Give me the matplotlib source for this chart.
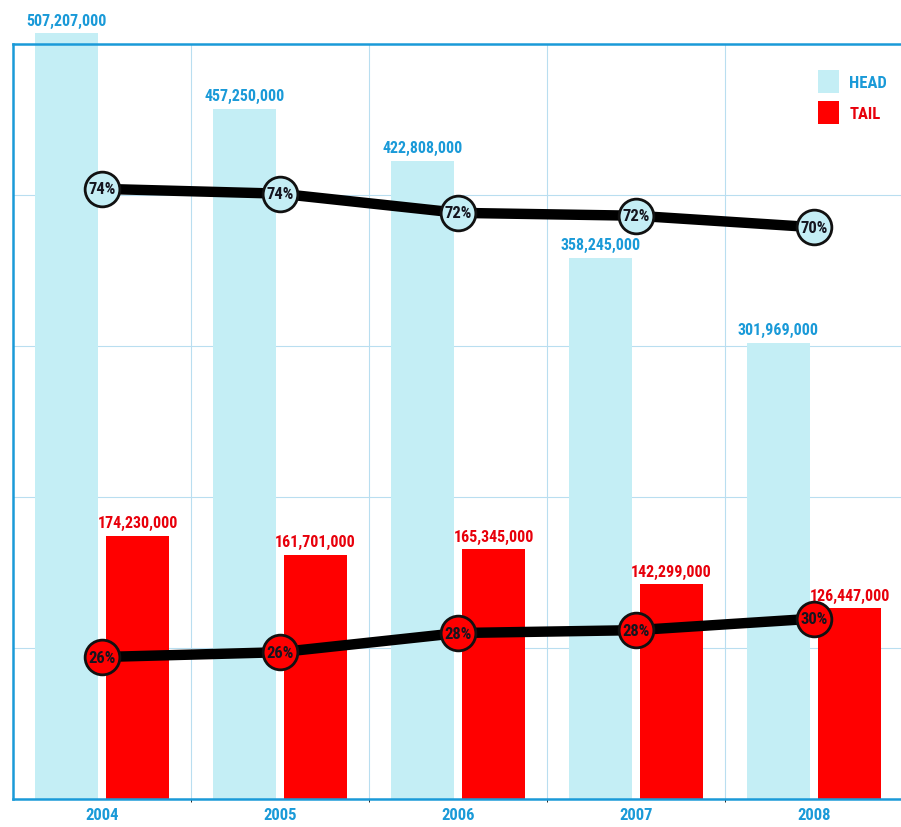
import numpy as np
import matplotlib.pyplot as plt
from matplotlib.patches import Patch

years = ["2004", "2005", "2006", "2007", "2008"]
head = [507207000, 457250000, 422808000, 358245000, 301969000]
tail = [174230000, 161701000, 165345000, 142299000, 126447000]
head_share = [74.4, 73.9, 71.9, 71.6, 70.4]
tail_share = [25.6, 26.1, 28.1, 28.4, 29.6]

HEAD_C = "#c4eef5"
TAIL_C = "#ff0000"
BLUE = "#1a9ad8"
RED = "#e8000b"
GRID = "#b9def0"

FONT = ["Roboto Condensed", "Open Sans Condensed", "Liberation Sans Narrow", "DejaVu Sans"]
plt.rcParams["font.family"] = FONT
plt.rcParams["font.stretch"] = "condensed"

fig = plt.figure(figsize=(9.01, 8.28), dpi=100)
ax = fig.add_axes([13 / 901, 28 / 828, 890 / 901, 755 / 828])

x = np.arange(len(years))
w = 0.35
off = 0.2

ax.bar(x - off, head, width=w, color=HEAD_C, zorder=2, clip_on=False)
ax.bar(x + off, tail, width=w, color=TAIL_C, zorder=2, clip_on=False)

for xi, v in zip(x, head):
    ax.annotate(f"{v:,}", (xi - off, v), xytext=(0, 4), textcoords="offset points",
                ha="center", va="bottom", color=BLUE, fontsize=11.5,
                fontweight="bold", annotation_clip=False, zorder=3)
for xi, v in zip(x, tail):
    ax.annotate(f"{v:,}", (xi + off, v), xytext=(0, 4), textcoords="offset points",
                ha="center", va="bottom", color=RED, fontsize=11.5,
                fontweight="bold", annotation_clip=False, zorder=3)

ax.set_xlim(-0.5, len(years) - 0.5)
ax.set_ylim(0, 500000000)
ax.set_yticks(np.arange(0, 500000001, 100000000))
ax.set_yticklabels([])
ax.tick_params(axis="y", length=0)
ax.set_xticks(x)
ax.set_xticklabels(years, color=BLUE, fontsize=12, fontweight="bold")
ax.tick_params(axis="x", length=0, pad=6)

# category separators and value gridlines
ax.set_xticks(np.arange(0.5, len(years) - 0.5, 1), minor=True)
ax.grid(True, which="minor", axis="x", color=GRID, linewidth=0.8, zorder=0)
ax.grid(True, which="major", axis="y", color=GRID, linewidth=0.8, zorder=0)
ax.set_axisbelow(True)

for side in ["left", "top", "bottom", "right"]:
    ax.spines[side].set_color(BLUE)
    ax.spines[side].set_linewidth(1.8)

# share lines on their own scale
ax2 = ax.twinx()
ax2.set_ylim(10.8, 89.5)
ax2.set_yticks([])
for s in ax2.spines.values():
    s.set_visible(False)

for share, fc in [(head_share, HEAD_C), (tail_share, TAIL_C)]:
    ax2.plot(x, share, color="black", linewidth=7.5, zorder=4, solid_capstyle="butt")
    ax2.plot(x, share, linestyle="none", marker="o", markersize=25,
             markerfacecolor=fc, markeredgecolor="#111111", markeredgewidth=2, zorder=5)
    for xi, v in zip(x, share):
        ax2.text(xi, v, f"{v:.0f}%", ha="center", va="center", fontsize=12,
                 fontweight="bold", color="#15151f", zorder=6)

handles = [Patch(facecolor=HEAD_C, label="HEAD"), Patch(facecolor=TAIL_C, label="TAIL")]
ax2.legend(handles=handles, loc="upper right", bbox_to_anchor=(0.999, 0.985),
           frameon=False, handlelength=1.3, handleheight=1.7, handletextpad=0.6,
           labelspacing=0.5, labelcolor=[BLUE, RED],
           prop={"family": FONT, "weight": "bold", "size": 12, "stretch": "condensed"})

plt.savefig("out.png", dpi=100)
plt.close()
